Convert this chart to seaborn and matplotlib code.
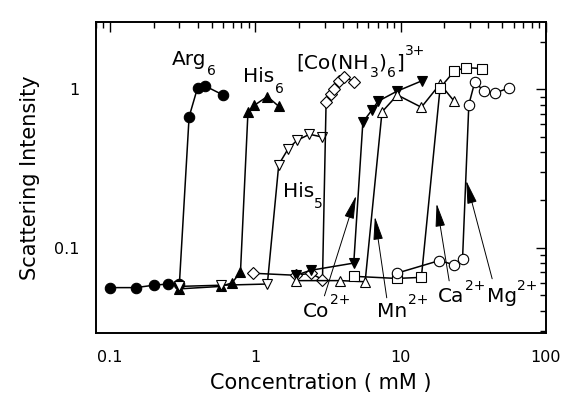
import matplotlib
matplotlib.use("Agg")
import matplotlib.pyplot as plt
import matplotlib.ticker as mticker
import pandas as pd
import numpy as np
import seaborn as sns

sns.set_theme(style="white")
plt.rcParams['font.family'] = ['DejaVu Sans']
plt.rcParams['text.color'] = 'black'
plt.rcParams['axes.labelcolor'] = 'black'
plt.rcParams['xtick.color'] = 'black'
plt.rcParams['ytick.color'] = 'black'

# concentrations (mM) and scattering intensities
arg6_x = [0.1, 0.15, 0.2, 0.25, 0.3, 0.35, 0.4, 0.45, 0.6]
arg6_y = [0.056, 0.056, 0.058, 0.059, 0.059, 0.67, 1.02, 1.05, 0.92]

his6_x = [0.3, 0.58, 0.69, 0.79, 0.89, 0.98, 1.21, 1.45]
his6_y = [0.055, 0.057, 0.06, 0.07, 0.72, 0.79, 0.90, 0.78]

his5_x = [0.3, 0.58, 1.21, 1.45, 1.68, 1.93, 2.36, 2.87]
his5_y = [0.057, 0.058, 0.059, 0.335, 0.42, 0.475, 0.52, 0.50]

cohex_x = [0.97, 1.9, 2.4, 2.9, 3.07, 3.3, 3.5, 3.75, 4.1, 4.8]
cohex_y = [0.069, 0.067, 0.069, 0.063, 0.83, 0.93, 1.0, 1.12, 1.2, 1.11]

co_x = [1.9, 2.4, 4.76, 5.5, 6.35, 7.0, 9.4, 14.0]
co_y = [0.067, 0.072, 0.080, 0.62, 0.74, 0.84, 0.97, 1.13]

mn_x = [1.9, 3.85, 5.7, 7.45, 9.5, 13.9, 18.7, 23.4]
mn_y = [0.062, 0.062, 0.061, 0.72, 0.92, 0.77, 1.08, 0.84]

ca_x = [4.76, 9.4, 13.9, 18.7, 23.4, 28.0, 36.5]
ca_y = [0.066, 0.064, 0.065, 1.02, 1.30, 1.37, 1.35]

mg_x = [9.4, 18.5, 23.4, 26.7, 29.5, 32.4, 37.5, 45.0, 56.0]
mg_y = [0.069, 0.083, 0.078, 0.085, 0.80, 1.11, 0.975, 0.95, 1.02]

# name, x, y, marker, filled
series = [
    ("Arg6", arg6_x, arg6_y, "o", True),
    ("His6", his6_x, his6_y, "^", True),
    ("His5", his5_x, his5_y, "v", False),
    ("CoHex", cohex_x, cohex_y, "D", False),
    ("Co", co_x, co_y, "v", True),
    ("Mn", mn_x, mn_y, "^", False),
    ("Ca", ca_x, ca_y, "s", False),
    ("Mg", mg_x, mg_y, "o", False),
]

fig = plt.figure(figsize=(5.68, 4.11), dpi=100)
ax = fig.add_axes([0.169, 0.19, 0.792, 0.756])

for name, xs, ys, mk, filled in series:
    df = pd.DataFrame({"conc": xs, "inten": ys})
    ms = 6.0 if mk == "D" else 7.5
    sns.lineplot(data=df, x="conc", y="inten", ax=ax, sort=False, estimator=None,
                 color="black", lw=1.1, marker=mk, ms=ms,
                 markerfacecolor="black" if filled else "white",
                 markeredgecolor="black", markeredgewidth=0.8)

ax.set_xscale("log")
ax.set_yscale("log")
ax.set_xlim(0.08, 100)
ax.set_ylim(0.029, 2.65)

ax.set_xticks([0.1, 1, 10, 100])
ax.set_yticks([0.1, 1])
ax.xaxis.set_major_formatter(mticker.FuncFormatter(lambda v, p: "%g" % v))
ax.yaxis.set_major_formatter(mticker.FuncFormatter(lambda v, p: "%g" % v))
ax.xaxis.set_minor_locator(mticker.LogLocator(base=10, subs=np.arange(2, 10)))
ax.yaxis.set_minor_locator(mticker.LogLocator(base=10, subs=np.arange(2, 10)))
ax.xaxis.set_minor_formatter(mticker.NullFormatter())
ax.yaxis.set_minor_formatter(mticker.NullFormatter())
ax.tick_params(which="both", direction="in", top=True, right=True, width=1.0)
ax.tick_params(which="major", length=7, labelsize=11.5, pad=12)
ax.tick_params(which="minor", length=4.5)
for s in ax.spines.values():
    s.set_color("black")
    s.set_linewidth(1.4)

ax.set_xlabel("Concentration ( mM )", fontsize=15, labelpad=6)
ax.set_ylabel("Scattering Intensity", fontsize=15, labelpad=10)

renderer = fig.canvas.get_renderer()


def chain_label(x, y, pieces):
    # lay out text pieces left to right from a data-space baseline,
    # each piece: (text, vertical shift in pixels, font size)
    X, Y = ax.transData.transform((x, y))
    W, H = fig.bbox.width, fig.bbox.height
    for txt, dy, size in pieces:
        t = fig.text(X / W, (Y + dy) / H, txt, fontsize=size,
                     ha="left", va="baseline")
        X = t.get_window_extent(renderer).x1 + 0.5


BIG, SMALL = 14.5, 10
chain_label(0.266, 1.42, [("Arg", 0, BIG), ("6", -10, SMALL)])
chain_label(0.826, 1.114, [("His", 0, BIG), ("6", -11, SMALL)])
chain_label(1.92, 1.36, [("[Co(NH", 0, BIG), ("3", -9, SMALL), (")", 0, BIG),
                         ("6", -9, SMALL), ("]", 0, BIG), ("3+", 13, SMALL)])
chain_label(1.54, 0.2098, [("His", 0, BIG), ("5", -11, SMALL)])
chain_label(2.13, 0.0367, [("Co", 0, BIG), ("2+", 13, SMALL)])
chain_label(6.87, 0.0367, [("Mn", 0, BIG), ("2+", 13, SMALL)])
chain_label(18.2, 0.0457, [("Ca", 0, BIG), ("2+", 12, SMALL)])
chain_label(39.1, 0.0457, [("Mg", 0, BIG), ("2+", 12, SMALL)])

# arrows from ion labels to their transitions
arrow = dict(arrowstyle="-|>,head_length=1.2,head_width=0.25", color="black", lw=0.7,
             shrinkA=0, shrinkB=0)
arrow_tail_x = [2.99, 8.03, 21.6, 42.7]
arrow_tail_y = [0.0497, 0.0483, 0.0618, 0.0637]
arrow_tip_x = [4.94, 6.65, 17.7, 28.3]
arrow_tip_y = [0.213, 0.157, 0.19, 0.265]
for tx, ty, hx, hy in zip(arrow_tail_x, arrow_tail_y, arrow_tip_x, arrow_tip_y):
    ax.annotate("", xy=(hx, hy), xytext=(tx, ty), arrowprops=arrow)

fig.savefig("out.png", dpi=100)
